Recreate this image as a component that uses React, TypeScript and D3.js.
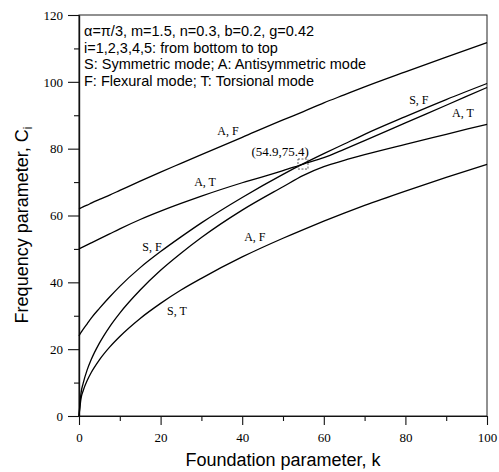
import React, { useRef, useEffect } from "react";
import * as d3 from "d3";

// foundation parameter k (shared sample points)
const kValues = [0, 0.5, 1, 2, 3, 5, 7.5, 10, 15, 20, 25, 30, 40, 50, 55, 60, 65, 70, 80, 90, 100];

// frequency parameter C_i, i = 1..5 from bottom to top
const freqST = [0, 5.3, 7.5, 10.6, 13, 16.8, 20.6, 23.8, 29.2, 33.7, 37.7, 41.2, 47.6, 53.2, 55.8, 58.3, 60.7, 63, 67.3, 71.4, 75.3];
const freqAFlow = [0, 6.9, 9.7, 13.8, 16.9, 21.8, 26.7, 30.8, 37.7, 43.6, 48.7, 53.4, 61.6, 68.6, 72, 74.6, 76.5, 78.2, 81.3, 84.3, 87.3];
const freqSF = [24, 25, 25.9, 27.6, 29.3, 32.2, 35.6, 38.8, 44.4, 49.2, 53.6, 57.8, 65.4, 72.3, 75.5, 78.5, 81.4, 84.3, 89.6, 94.7, 99.5];
const freqAT = [50, 50.3, 50.6, 51.2, 51.8, 53, 54.5, 56, 58.8, 61.3, 63.6, 65.8, 69.8, 73.4, 75.4, 77.3, 79.8, 82.4, 87.7, 93, 98.3];
const freqAFtop = [62, 62.3, 62.6, 63.1, 63.7, 64.8, 66.1, 67.5, 70.3, 73, 75.6, 78.2, 83.4, 88.6, 91.1, 93.7, 96.1, 98.5, 103, 107.4, 111.7];

const series = [freqST, freqAFlow, freqSF, freqAT, freqAFtop];

const kMajor = [0, 20, 40, 60, 80, 100];
const kMinor = [10, 30, 50, 70, 90];
const cMajor = [0, 20, 40, 60, 80, 100, 120];
const cMinor = [10, 30, 50, 70, 90, 110];

// curve labels: [text, k, C]
const curveLabels: [string, number, number][] = [
  ["A, F", 36.5, 85.3],
  ["A, T", 30.9, 70],
  ["S, F", 17.9, 50.6],
  ["S, T", 24, 31.4],
  ["A, F", 43.1, 53.6],
  ["S, F", 83.3, 94.6],
  ["A, T", 94.1, 90.7],
];

const crossing = [54.9, 75.4];

const notes = [
  "\u03b1=\u03c0/3, m=1.5, n=0.3, b=0.2, g=0.42",
  "i=1,2,3,4,5: from bottom to top",
  "S: Symmetric mode; A: Antisymmetric mode",
  "F: Flexural mode; T: Torsional mode",
];

const serif = "'Liberation Serif', 'Times New Roman', serif";
const sans = "'Liberation Sans', Arial, sans-serif";

function FrequencyChart() {
  const ref = useRef<SVGSVGElement>(null);

  useEffect(() => {
    const svg = d3.select(ref.current);
    svg.selectAll("*").remove();

    const x = d3.scaleLinear().domain([0, 100]).range([79, 487]);
    const y = d3.scaleLinear().domain([0, 120]).range([416, 15]);

    // frame
    svg
      .append("rect")
      .attr("x", 79)
      .attr("y", 15)
      .attr("width", 408)
      .attr("height", 401)
      .attr("fill", "none")
      .attr("stroke", "#222")
      .attr("stroke-width", 1);

    const styleAxis = (g: any) => {
      g.select(".domain").attr("stroke", "#111").attr("stroke-width", 1.2);
      g.selectAll(".tick line").attr("stroke", "#111").attr("stroke-width", 1.1);
      g.selectAll("text")
        .attr("font-family", serif)
        .attr("font-size", 13)
        .attr("fill", "#000");
    };

    svg
      .append("g")
      .attr("transform", "translate(0,416)")
      .call(d3.axisBottom(x).tickValues(kMajor).tickSize(9).tickSizeOuter(0).tickPadding(8).tickFormat(d3.format("d")))
      .call(styleAxis);
    svg
      .append("g")
      .attr("transform", "translate(0,416)")
      .call(d3.axisBottom(x).tickValues(kMinor).tickSize(5).tickSizeOuter(0).tickFormat(() => ""))
      .call(styleAxis);

    svg
      .append("g")
      .attr("transform", "translate(79,0)")
      .call(d3.axisLeft(y).tickValues(cMajor).tickSize(11).tickSizeOuter(0).tickPadding(5).tickFormat(d3.format("d")))
      .call(styleAxis);
    svg
      .append("g")
      .attr("transform", "translate(79,0)")
      .call(d3.axisLeft(y).tickValues(cMinor).tickSize(5).tickSizeOuter(0).tickFormat(() => ""))
      .call(styleAxis);

    // curves
    const line = d3
      .line<number>()
      .x((d, i) => x(kValues[i]))
      .y((d) => y(d))
      .curve(d3.curveMonotoneX);

    series.forEach((s) => {
      svg
        .append("path")
        .datum(s)
        .attr("d", line)
        .attr("fill", "none")
        .attr("stroke", "#000")
        .attr("stroke-width", 1.3);
    });

    // curve labels
    curveLabels.forEach(([t, k, c]) => {
      svg
        .append("text")
        .attr("x", x(k))
        .attr("y", y(c))
        .attr("dy", "0.35em")
        .attr("text-anchor", "middle")
        .attr("font-family", serif)
        .attr("font-size", 12)
        .text(t);
    });

    // crossing point marker
    const cx = x(crossing[0]);
    const cy = y(crossing[1]);
    svg
      .append("rect")
      .attr("x", cx - 5)
      .attr("y", cy - 5)
      .attr("width", 10)
      .attr("height", 10)
      .attr("fill", "none")
      .attr("stroke", "#333")
      .attr("stroke-width", 0.8)
      .attr("stroke-dasharray", "2,1.5");
    svg
      .append("text")
      .attr("x", x(49.3))
      .attr("y", y(79.3))
      .attr("dy", "0.35em")
      .attr("text-anchor", "middle")
      .attr("font-family", serif)
      .attr("font-size", 13)
      .text(`(${crossing[0]},${crossing[1]})`);

    // notes in the top-left corner
    notes.forEach((t, i) => {
      svg
        .append("text")
        .attr("x", 84)
        .attr("y", 36 + i * 16.7)
        .attr("font-family", sans)
        .attr("font-size", 14.5)
        .text(t);
    });

    // axis titles
    svg
      .append("text")
      .attr("x", 283)
      .attr("y", 466)
      .attr("text-anchor", "middle")
      .attr("font-family", sans)
      .attr("font-size", 18)
      .text("Foundation parameter, k");

    const yTitle = svg
      .append("text")
      .attr("transform", "translate(28,225) rotate(-90)")
      .attr("text-anchor", "middle")
      .attr("font-family", sans)
      .attr("font-size", 18);
    yTitle.append("tspan").text("Frequency parameter, C");
    yTitle.append("tspan").attr("font-size", 12).attr("dy", 4).text("i");
  }, []);

  return (
    <svg
      ref={ref}
      width={499}
      height={472}
      style={{ position: "absolute", left: 0, top: 0, background: "#fff" }}
    ></svg>
  );
}

export default function App() {
  return <FrequencyChart />;
}
